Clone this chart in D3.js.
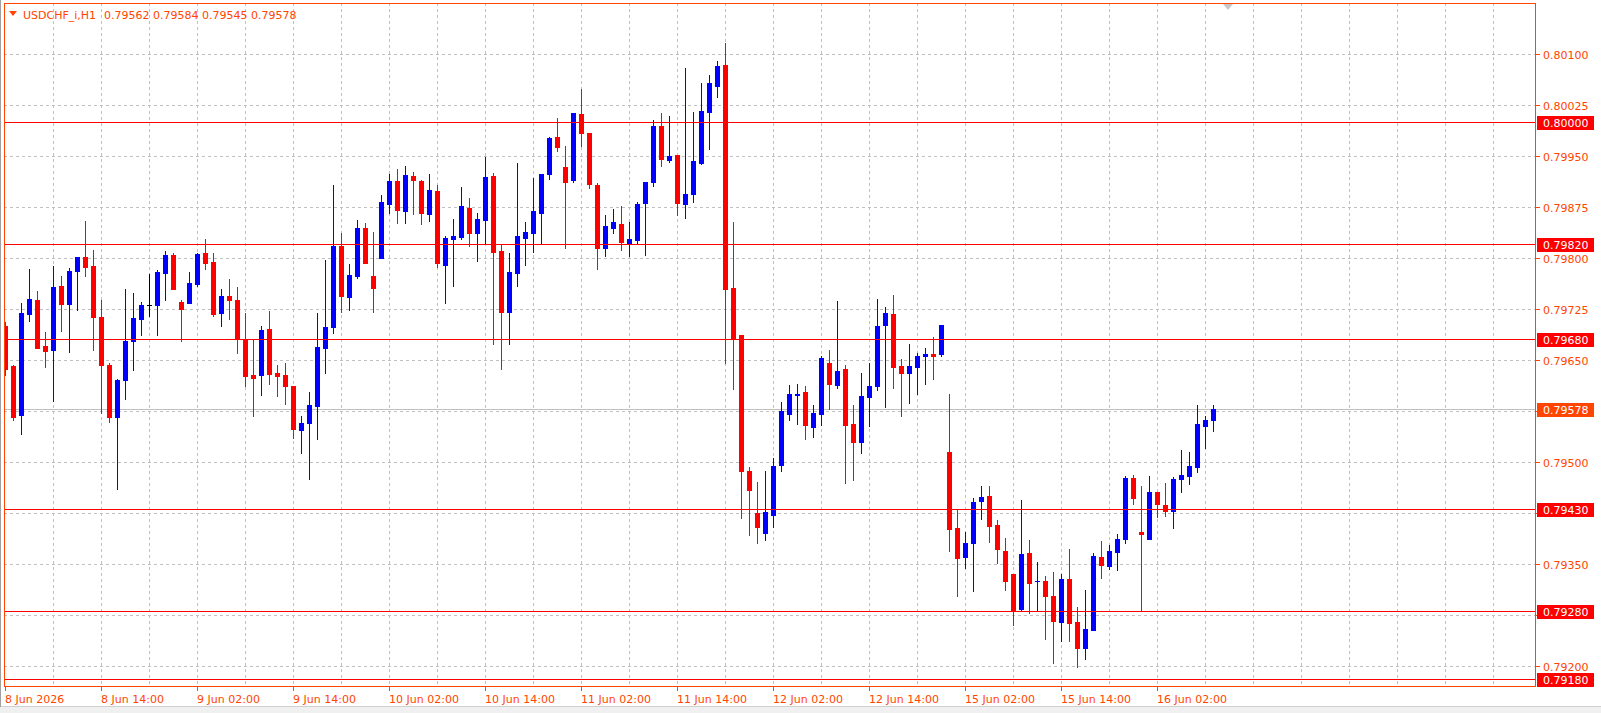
<!DOCTYPE html>
<html><head><meta charset="utf-8">
<script src="https://cdn.jsdelivr.net/npm/d3@7"></script>
<style>html,body{margin:0;padding:0;background:#fff;overflow:hidden}</style>
</head><body>
<svg id="chart" width="1601" height="713"></svg>
<script>
// ---- data (H1 bars, USDCHF_i) ----
const symbolTitle = "USDCHF_i,H1";
const lastQuote = ["0.79562", "0.79584", "0.79545", "0.79578"];
const opens = [0.79700,0.79641,0.79569,0.79718,0.79738,0.79670,0.79665,0.79758,0.79732,0.79781,0.79802,0.79788,0.79713,0.79642,0.79566,0.79621,0.79677,0.79710,0.79730,0.79731,0.79778,0.79804,0.79735,0.79734,0.79762,0.79807,0.79794,0.79719,0.79744,0.79738,0.79680,0.79627,0.79627,0.79695,0.79630,0.79627,0.79611,0.79546,0.79557,0.79582,0.79667,0.79698,0.79818,0.79742,0.79773,0.79844,0.79774,0.79800,0.79880,0.79913,0.79869,0.79920,0.79913,0.79865,0.79898,0.79790,0.79828,0.79831,0.79873,0.79837,0.79856,0.79920,0.79810,0.79721,0.79778,0.79830,0.79837,0.79866,0.79923,0.79978,0.79934,0.79914,0.80012,0.79984,0.79907,0.79814,0.79844,0.79850,0.79822,0.79827,0.79881,0.79911,0.79994,0.79944,0.79952,0.79879,0.79894,0.79940,0.80015,0.80053,0.80084,0.79756,0.79686,0.79486,0.79424,0.79395,0.79422,0.79495,0.79570,0.79598,0.79602,0.79551,0.79570,0.79646,0.79613,0.79637,0.79555,0.79529,0.79595,0.79611,0.79701,0.79717,0.79641,0.79630,0.79640,0.79656,0.79659,0.79658,0.79515,0.79402,0.79359,0.79380,0.79442,0.79449,0.79407,0.79369,0.79334,0.79283,0.79366,0.79324,0.79325,0.79303,0.79264,0.79327,0.79264,0.79226,0.79253,0.79359,0.79347,0.79367,0.79386,0.79476,0.79396,0.79386,0.79456,0.79437,0.79428,0.79475,0.79479,0.79492,0.79553,0.79562];
const highs = [0.79705,0.79642,0.79734,0.79783,0.79752,0.79691,0.79788,0.79773,0.79785,0.79802,0.79854,0.79811,0.79738,0.79645,0.79622,0.79754,0.79748,0.79735,0.79776,0.79782,0.79810,0.79807,0.79738,0.79779,0.79807,0.79828,0.79807,0.79754,0.79769,0.79757,0.79719,0.79680,0.79700,0.79722,0.79642,0.79645,0.79611,0.79567,0.79602,0.79719,0.79797,0.79907,0.79837,0.79791,0.79856,0.79851,0.79838,0.79892,0.79923,0.79931,0.79935,0.79926,0.79914,0.79923,0.79907,0.79832,0.79857,0.79904,0.79888,0.79866,0.79948,0.79925,0.79819,0.79807,0.79939,0.79853,0.79917,0.79923,0.79978,0.80006,0.79965,0.80013,0.80048,0.79984,0.79910,0.79863,0.79872,0.79877,0.79853,0.79882,0.79912,0.80003,0.80013,0.80009,0.79952,0.80079,0.80015,0.80057,0.80069,0.80090,0.80116,0.79853,0.79686,0.79492,0.79470,0.79487,0.79505,0.79588,0.79613,0.79614,0.79611,0.79584,0.79656,0.79665,0.79737,0.79642,0.79583,0.79630,0.79646,0.79740,0.79727,0.79746,0.79651,0.79673,0.79660,0.79667,0.79683,0.79701,0.79600,0.79431,0.79397,0.79446,0.79464,0.79464,0.79414,0.79388,0.79335,0.79444,0.79385,0.79353,0.79332,0.79338,0.79334,0.79371,0.79286,0.79311,0.79366,0.79384,0.79377,0.79393,0.79479,0.79480,0.79464,0.79479,0.79456,0.79468,0.79477,0.79517,0.79514,0.79584,0.79567,0.79584];
const lows = [0.79628,0.79562,0.79541,0.79707,0.79668,0.79640,0.79589,0.79693,0.79662,0.79724,0.79773,0.79665,0.79571,0.79559,0.79460,0.79593,0.79635,0.79687,0.79715,0.79687,0.79738,0.79754,0.79677,0.79734,0.79759,0.79784,0.79714,0.79700,0.79710,0.79660,0.79611,0.79567,0.79598,0.79614,0.79597,0.79585,0.79535,0.79513,0.79474,0.79533,0.79630,0.79689,0.79720,0.79723,0.79771,0.79793,0.79721,0.79800,0.79866,0.79852,0.79852,0.79864,0.79850,0.79855,0.79786,0.79734,0.79759,0.79828,0.79818,0.79796,0.79822,0.79674,0.79637,0.79673,0.79759,0.79790,0.79809,0.79820,0.79916,0.79957,0.79815,0.79911,0.79964,0.79903,0.79784,0.79803,0.79836,0.79811,0.79803,0.79822,0.79804,0.79906,0.79936,0.79941,0.79863,0.79859,0.79882,0.79938,0.79961,0.80037,0.79645,0.79607,0.79417,0.79392,0.79380,0.79385,0.79404,0.79486,0.79561,0.79555,0.79533,0.79536,0.79554,0.79577,0.79608,0.79469,0.79473,0.79513,0.79552,0.79605,0.79581,0.79608,0.79568,0.79586,0.79599,0.79615,0.79622,0.79655,0.79368,0.79302,0.79343,0.79309,0.79415,0.79382,0.79351,0.79311,0.79260,0.79281,0.79277,0.79281,0.79239,0.79204,0.79236,0.79236,0.79198,0.79210,0.79253,0.79329,0.79342,0.79341,0.79381,0.79438,0.79282,0.79386,0.79419,0.79420,0.79403,0.79456,0.79467,0.79485,0.79520,0.79545];
const closes = [0.79636,0.79566,0.79719,0.79739,0.79668,0.79663,0.79757,0.79732,0.79780,0.79802,0.79787,0.79713,0.79643,0.79566,0.79620,0.79678,0.79711,0.79730,0.79730,0.79779,0.79805,0.79754,0.79725,0.79763,0.79806,0.79792,0.79717,0.79744,0.79738,0.79680,0.79626,0.79623,0.79694,0.79629,0.79626,0.79611,0.79548,0.79557,0.79583,0.79669,0.79698,0.79818,0.79744,0.79775,0.79844,0.79793,0.79756,0.79882,0.79913,0.79871,0.79922,0.79915,0.79866,0.79900,0.79792,0.79829,0.79832,0.79876,0.79837,0.79857,0.79919,0.79809,0.79721,0.79779,0.79832,0.79838,0.79869,0.79923,0.79976,0.79963,0.79911,0.80013,0.79984,0.79909,0.79815,0.79847,0.79853,0.79824,0.79828,0.79879,0.79912,0.79994,0.79945,0.79950,0.79881,0.79894,0.79942,0.80016,0.80057,0.80082,0.79754,0.79682,0.79486,0.79458,0.79404,0.79426,0.79493,0.79574,0.79599,0.79600,0.79554,0.79572,0.79652,0.79614,0.79634,0.79554,0.79529,0.79597,0.79611,0.79700,0.79719,0.79640,0.79630,0.79641,0.79656,0.79659,0.79656,0.79701,0.79401,0.79358,0.79380,0.79440,0.79448,0.79406,0.79371,0.79324,0.79281,0.79364,0.79322,0.79325,0.79303,0.79265,0.79327,0.79263,0.79226,0.79254,0.79361,0.79348,0.79368,0.79386,0.79476,0.79447,0.79394,0.79456,0.79438,0.79428,0.79474,0.79481,0.79493,0.79555,0.79562,0.79578];
const timeLabels = ["8 Jun 2026","8 Jun 14:00","9 Jun 02:00","9 Jun 14:00","10 Jun 02:00","10 Jun 14:00","11 Jun 02:00","11 Jun 14:00","12 Jun 02:00","12 Jun 14:00","15 Jun 02:00","15 Jun 14:00","16 Jun 02:00"];
const timeLabelBars = [0,12,24,36,48,60,72,84,96,108,120,132,144];
const priceTicks = [0.80100,0.80025,0.79950,0.79875,0.79800,0.79725,0.79650,0.79575,0.79500,0.79425,0.79350,0.79275,0.79200];
const levelLines = [0.80000,0.79820,0.79680,0.79430,0.79280,0.79180];
const currentPrice = 0.79578;

// ---- layout ----
const W = 1601, H = 713;
const P = {left: 4, top: 3, right: 1535, bottom: 686};
const FG = "#ff4500";
const FONT = "DejaVu Sans, Verdana, sans-serif";
const n = opens.length;

const svg = d3.select("#chart");
svg.append("rect").attr("width", W).attr("height", H).attr("fill", "#ffffff");

const x = d3.scaleLinear().domain([0, n - 1]).range([5, 5 + 8 * (n - 1)]);
const y = d3.scaleLinear().domain([0.79180, 0.80100]).range([679.1, 54.1]);
const col = i => Math.round(x(i));
const ry = v => Math.round(y(v));

svg.append("defs").append("clipPath").attr("id", "plotclip")
  .append("rect").attr("x", P.left + 1).attr("y", P.top + 1)
  .attr("width", P.right - P.left - 1).attr("height", P.bottom - P.top - 1);

const g = svg.append("g").attr("clip-path", "url(#plotclip)").attr("shape-rendering", "crispEdges");

// vertical grid every 6 bars (extends past the last bar)
const step = x(6) - x(0);
const vgrid = d3.range(x(6), P.right, step);
g.selectAll("line.vg").data(vgrid).join("line").attr("class", "vg")
  .attr("x1", d => Math.round(d) + 0.5).attr("x2", d => Math.round(d) + 0.5)
  .attr("y1", P.top).attr("y2", P.bottom)
  .attr("stroke", "#c0c0c0").attr("stroke-dasharray", "3,3");

// horizontal grid
g.selectAll("line.hg").data(priceTicks).join("line").attr("class", "hg")
  .attr("x1", P.left).attr("x2", P.right)
  .attr("y1", d => ry(d) + 0.5).attr("y2", d => ry(d) + 0.5)
  .attr("stroke", "#c0c0c0").attr("stroke-dasharray", "3,3");

// current price line
g.append("line").attr("x1", P.left).attr("x2", P.right)
  .attr("y1", ry(currentPrice) + 0.5).attr("y2", ry(currentPrice) + 0.5)
  .attr("stroke", "#c0c0c0");

// candles
const bars = d3.range(n).map(i => ({i, o: opens[i], h: highs[i], l: lows[i], c: closes[i]}));
const colorOf = d => d.c > d.o ? "#0000ff" : (d.c < d.o ? "#ff0000" : "#000000");
const cg = g.selectAll("g.candle").data(bars).join("g").attr("class", "candle");
cg.append("line")
  .attr("x1", d => col(d.i) + 0.5).attr("x2", d => col(d.i) + 0.5)
  .attr("y1", d => ry(d.h)).attr("y2", d => ry(d.l) + 1)
  .attr("stroke", colorOf);
cg.append("rect")
  .attr("x", d => col(d.i) - 2).attr("width", 5)
  .attr("y", d => ry(Math.max(d.o, d.c)))
  .attr("height", d => Math.max(1, ry(Math.min(d.o, d.c)) - ry(Math.max(d.o, d.c)) + 1))
  .attr("fill", colorOf);

// level lines (drawn on top)
g.selectAll("line.lv").data(levelLines).join("line").attr("class", "lv")
  .attr("x1", P.left).attr("x2", P.right)
  .attr("y1", d => ry(d) + 0.5).attr("y2", d => ry(d) + 0.5)
  .attr("stroke", "#ff0000").attr("stroke-width", 1);

// frame
svg.append("rect").attr("x", P.left + 0.5).attr("y", P.top + 0.5)
  .attr("width", P.right - P.left).attr("height", P.bottom - P.top)
  .attr("fill", "none").attr("stroke", FG).attr("shape-rendering", "crispEdges");

// right price axis
const boxes = levelLines.map(v => ({v, fill: "#ff0000"})).concat([{v: currentPrice, fill: FG}]);
const hidden = d => boxes.some(b => Math.abs(ry(b.v) - ry(d)) < 8);
const ax = svg.append("g").attr("shape-rendering", "crispEdges");
ax.selectAll("line.t").data(priceTicks).join("line").attr("class", "t")
  .attr("x1", P.right + 1).attr("x2", P.right + 5)
  .attr("y1", d => ry(d) + 0.5).attr("y2", d => ry(d) + 0.5).attr("stroke", FG);
svg.selectAll("text.pt").data(priceTicks.filter(d => !hidden(d))).join("text").attr("class", "pt")
  .attr("x", P.right + 8).attr("y", d => ry(d) + 4.5)
  .attr("font-family", FONT).attr("font-size", 11).attr("fill", FG)
  .text(d => d.toFixed(5));

// level labels
const lb = svg.selectAll("g.lb").data(boxes).join("g").attr("class", "lb");
lb.append("rect").attr("x", P.right + 2).attr("width", 57)
  .attr("y", d => ry(d.v) - 6).attr("height", 14).attr("fill", d => d.fill)
  .attr("shape-rendering", "crispEdges");
lb.append("text").attr("x", P.right + 8).attr("y", d => ry(d.v) + 5)
  .attr("font-family", FONT).attr("font-size", 11).attr("fill", "#ffffff")
  .text(d => d.v.toFixed(5));

// bottom time axis
ax.selectAll("line.bt").data(timeLabelBars).join("line").attr("class", "bt")
  .attr("x1", d => col(d) + 0.5).attr("x2", d => col(d) + 0.5)
  .attr("y1", P.bottom + 1).attr("y2", P.bottom + 5).attr("stroke", FG);
svg.selectAll("text.tl").data(timeLabels).join("text").attr("class", "tl")
  .attr("x", (d, k) => col(timeLabelBars[k]))
  .attr("y", P.bottom + 17)
  .attr("font-family", FONT).attr("font-size", 11).attr("fill", FG)
  .text(d => d);

// title
svg.append("path").attr("d", "M9,11 L17,11 L13,16 Z").attr("fill", FG);
svg.append("text").attr("x", 23).attr("y", 19).attr("font-family", FONT).attr("font-size", 11)
  .attr("fill", FG).text(symbolTitle);
svg.append("text").attr("x", 104).attr("y", 19).attr("font-family", FONT).attr("font-size", 11)
  .attr("fill", FG).text(lastQuote.join(" "));

// chart shift marker
svg.append("path").attr("d", "M1223,4 L1233,4 L1228,10 Z").attr("fill", "#c8c8c8");

// window edges
svg.append("rect").attr("x", 0).attr("y", 707).attr("width", W).attr("height", 6).attr("fill", "#f0f0f0");
svg.append("line").attr("x1", 0).attr("x2", W).attr("y1", 706.5).attr("y2", 706.5).attr("stroke", "#d0d0d0");
svg.append("line").attr("x1", 0.5).attr("x2", 0.5).attr("y1", 0).attr("y2", 707).attr("stroke", "#a0a0a0");
</script>
</body></html>
